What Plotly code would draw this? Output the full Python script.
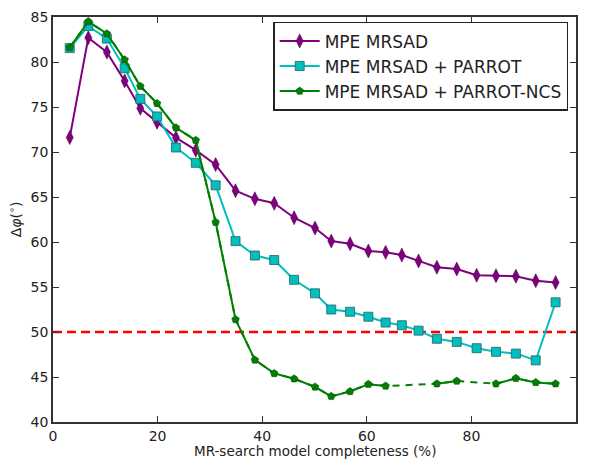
import plotly.graph_objects as go

x = [3.2, 6.75, 10.3, 13.7, 16.7, 19.9, 23.5, 27.3, 31.1, 34.9, 38.6, 42.3, 46.1,
     50.1, 53.2, 56.8, 60.3, 63.6, 66.7, 69.9, 73.4, 77.2, 81.0, 84.7, 88.5, 92.3, 96.1]

mrsad = [71.6, 82.7, 81.1, 77.9, 74.85, 73.3, 71.6, 70.2, 68.6, 65.7, 64.8, 64.3, 62.7,
         61.55, 60.1, 59.8, 59.0, 58.85, 58.55, 57.9, 57.2, 57.0, 56.3, 56.25, 56.2, 55.7, 55.5]

parrot = [81.55, 84.0, 82.6, 79.3, 75.9, 73.95, 70.5, 68.8, 66.3, 60.1, 58.5, 58.0, 55.8,
          54.3, 52.5, 52.25, 51.7, 51.05, 50.75, 50.15, 49.25, 48.9, 48.2, 47.8, 47.6, 46.85, 53.3]

ncs = [81.6, 84.5, 83.15, 80.25, 77.3, 75.4, 72.7, 71.3, 62.2, 51.4, 46.9, 45.4, 44.8,
       43.9, 42.85, 43.4, 44.2, 44.0, None, None, 44.25, 44.55, None, 44.25, 44.85, 44.4, 44.25]

threshold = 50

names = ["MPE MRSAD", "MPE MRSAD + PARROT", "MPE MRSAD + PARROT-NCS"]
x_title = "MR-search model completeness (%)"
y_title = "Δ<i>φ</i>(<sup>∘</sup>)"

PURPLE = "#800080"
CYAN = "#00BFBF"
GREEN = "#008000"

fig = go.Figure()

# threshold line
fig.add_trace(go.Scatter(x=[0, 100], y=[threshold, threshold], mode="lines",
                         line=dict(color="#FF0000", width=2.5, dash="9px,5px"),
                         showlegend=False, hoverinfo="skip"))

fig.add_trace(go.Scatter(x=x, y=mrsad, mode="lines+markers", name=names[0],
                         line=dict(color=PURPLE, width=2),
                         marker=dict(symbol="diamond-tall", size=10, color=PURPLE,
                                     line=dict(color="#3a003a", width=0.5))))

fig.add_trace(go.Scatter(x=x, y=parrot, mode="lines+markers", name=names[1],
                         line=dict(color=CYAN, width=2),
                         marker=dict(symbol="square", size=9, color=CYAN,
                                     line=dict(color="#2a6060", width=0.8))))

# dashed connection through all available NCS points
xs_d = [xi for xi, v in zip(x, ncs) if v is not None]
ys_d = [v for v in ncs if v is not None]
fig.add_trace(go.Scatter(x=xs_d, y=ys_d, mode="lines", showlegend=False,
                         line=dict(color=GREEN, width=2, dash="7px,6px"),
                         hoverinfo="skip"))
fig.add_trace(go.Scatter(x=x, y=ncs, mode="lines+markers", name=names[2],
                         connectgaps=False,
                         line=dict(color=GREEN, width=2),
                         marker=dict(symbol="pentagon", size=8, color=GREEN,
                                     line=dict(color="#004000", width=0.5))))

axis_common = dict(showgrid=False, zeroline=False, showline=True, linecolor="#333",
                   linewidth=1.5, mirror="allticks", ticks="inside", ticklen=6,
                   tickcolor="#333", tickfont=dict(size=14, color="#222"),
                   automargin=False)

fig.update_layout(
    width=589, height=459,
    margin=dict(l=53, r=13, t=17, b=37),
    paper_bgcolor="white", plot_bgcolor="white",
    font=dict(family="DejaVu Sans", color="#222"),
    xaxis=dict(range=[0, 100], dtick=20, **axis_common),
    yaxis=dict(range=[40, 85], dtick=5, **axis_common),
    legend=dict(x=0.421, y=0.988, xanchor="left", yanchor="top",
                bgcolor="white", bordercolor="#222", borderwidth=1.5,
                font=dict(size=17, color="#222"), itemwidth=40, tracegroupgap=0),
    showlegend=True,
    annotations=[
        dict(text=x_title, xref="paper", yref="paper", x=0.5, y=-0.072,
             xanchor="center", yanchor="middle", showarrow=False,
             font=dict(size=13.5, color="#222")),
        dict(text=y_title, xref="paper", yref="paper", x=-0.073, y=0.5,
             xanchor="center", yanchor="middle", showarrow=False, textangle=-90,
             font=dict(size=14, color="#222")),
    ],
)

fig.write_html("out.html")
